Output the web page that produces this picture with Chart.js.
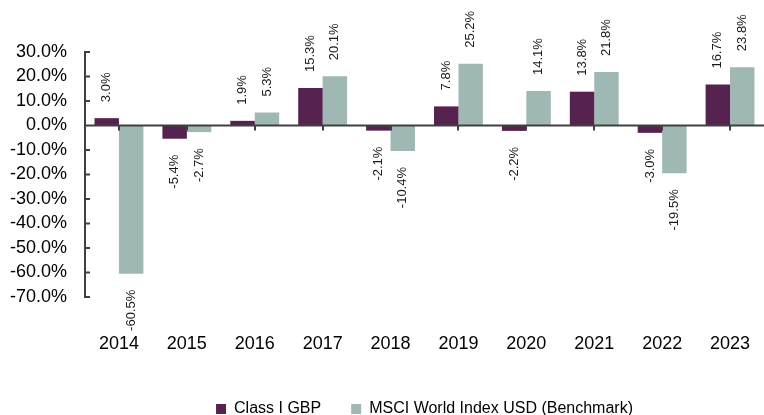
<!DOCTYPE html>
<html>
<head>
<meta charset="utf-8">
<script src="https://cdn.jsdelivr.net/npm/chart.js@4.4.1/dist/chart.umd.min.js"></script>
<style>
  html, body { margin: 0; padding: 0; background: #fff; }
  #wrap { width: 764px; height: 415px; }
</style>
</head>
<body>
<div id="wrap"><canvas id="myChart" width="764" height="415"></canvas></div>
<script>
const years = ["2014", "2015", "2016", "2017", "2018", "2019", "2020", "2021", "2022", "2023"];
const classIGbp = [3.0, -5.4, 1.9, 15.3, -2.1, 7.8, -2.2, 13.8, -3.0, 16.7];
const msciWorld = [-60.5, -2.7, 5.3, 20.1, -10.4, 25.2, 14.1, 21.8, -19.5, 23.8];
const seriesNames = ["Class I GBP", "MSCI World Index USD (Benchmark)"];
const seriesColors = ["#56224f", "#a0b8b4"];

const FONT = '"Liberation Sans", Arial, sans-serif';
const AXIS = "#404040";

// rotated value labels above / below each bar
const valueLabels = {
  id: "valueLabels",
  afterDatasetsDraw(chart) {
    const ctx = chart.ctx;
    ctx.save();
    ctx.font = "13px " + FONT;
    ctx.fillStyle = "#1a1a1a";
    ctx.textBaseline = "middle";
    chart.data.datasets.forEach((ds, i) => {
      chart.getDatasetMeta(i).data.forEach((bar, j) => {
        const v = ds.data[j];
        ctx.save();
        ctx.translate(bar.x, v >= 0 ? bar.y - 16 : bar.y + 16);
        ctx.rotate(-Math.PI / 2);
        ctx.textAlign = v >= 0 ? "left" : "right";
        ctx.fillText(v.toFixed(1) + "%", 0, 0);
        ctx.restore();
      });
    });
    ctx.restore();
  }
};

// zero line with category ticks, and inside ticks on the y axis
const axisMarks = {
  id: "axisMarks",
  afterDatasetsDraw(chart) {
    const ctx = chart.ctx;
    const x = chart.scales.x, y = chart.scales.y;
    const area = chart.chartArea;
    const y0 = y.getPixelForValue(0);
    ctx.save();
    ctx.strokeStyle = AXIS;
    ctx.lineWidth = 2;
    ctx.beginPath();
    ctx.moveTo(area.left, y0);
    ctx.lineTo(area.right, y0);
    years.forEach((yr, i) => {
      const px = Math.round(x.getPixelForValue(i));
      ctx.moveTo(px, y0);
      ctx.lineTo(px, y0 + 5);
    });
    y.ticks.forEach(t => {
      const py = y.getPixelForValue(t.value);
      ctx.moveTo(area.left, py);
      ctx.lineTo(area.left + 5, py);
    });
    ctx.stroke();
    ctx.restore();
  }
};

// keep the legend row near the bottom edge while keeping wide item spacing
const legendHeight = {
  id: "legendHeight",
  afterInit(chart) {
    const legend = chart.legend;
    const fit = legend.fit.bind(legend);
    legend.fit = function () {
      fit();
      this.height = 44;
    };
  }
};

new Chart(document.getElementById("myChart").getContext("2d"), {
  type: "bar",
  data: {
    labels: years,
    datasets: [
      { label: seriesNames[0], data: classIGbp, backgroundColor: seriesColors[0] },
      { label: seriesNames[1], data: msciWorld, backgroundColor: seriesColors[1] }
    ]
  },
  options: {
    responsive: false,
    animation: false,
    devicePixelRatio: 1,
    categoryPercentage: 0.72,
    barPercentage: 1.0,
    layout: { padding: { top: 52, left: 0, right: 0, bottom: 0 } },
    plugins: {
      tooltip: { enabled: false },
      legend: {
        position: "bottom",
        fullSize: false,
        labels: {
          boxWidth: 10,
          boxHeight: 10,
          padding: 30,
          color: "#000",
          font: { family: FONT, size: 16 }
        }
      }
    },
    scales: {
      x: {
        grid: { display: false, drawTicks: false },
        border: { display: false },
        ticks: { color: "#000", padding: 36, font: { family: FONT, size: 18 } },
        afterFit(scale) {
          scale.height = 74;
          scale.paddingLeft = 0;
          scale.paddingRight = 0;
        }
      },
      y: {
        min: -70,
        max: 30,
        grid: { display: false, drawTicks: false },
        border: { display: true, color: AXIS, width: 2 },
        ticks: {
          stepSize: 10,
          autoSkip: false,
          color: "#000",
          padding: 18,
          font: { family: FONT, size: 18 },
          callback: v => v.toFixed(1) + "%"
        },
        afterFit(scale) { scale.width = 85; }
      }
    }
  },
  plugins: [valueLabels, axisMarks, legendHeight]
});
</script>
</body>
</html>
